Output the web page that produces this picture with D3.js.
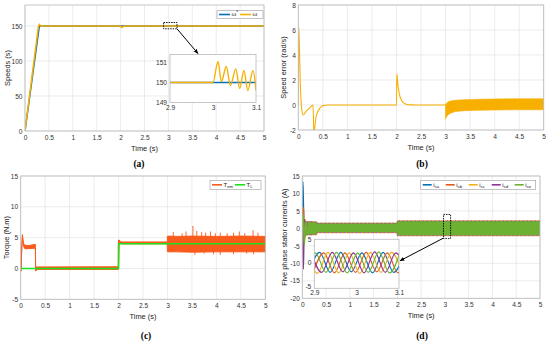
<!DOCTYPE html>
<html>
<head>
<meta charset="utf-8">
<script src="https://cdn.jsdelivr.net/npm/d3@7"></script>
<style>
  body { margin: 0; background: #fff; }
</style>
</head>
<body>
<svg id="fig" width="550" height="342"></svg>
<script>
// ---------- data ----------
const timeTicks = [0, 0.5, 1, 1.5, 2, 2.5, 3, 3.5, 4, 4.5, 5];

// (a) speeds
const speedTicks = [0, 50, 100, 150];
const refT = [0, 0.3, 5];
const refW = [0, 150, 150];
const wT = [0, 0.28, 0.3, 0.32, 0.36, 2.0, 2.02, 2.06, 2.12, 5];
const wV = [0, 149, 152.5, 150.8, 150, 150, 147.8, 149.3, 150, 150];
const zoomAX = [2.9, 3, 3.1];
const zoomAY = [149, 150, 151];
const zRefT = [2.9, 3.1];
const zRefW = [150, 150];
const zWT = [2.9, 3.0, 3.0116, 3.0195, 3.031, 3.0405, 3.053, 3.062, 3.072, 3.081, 3.093, 3.1];
const zWV = [150, 150, 151.05, 150.05, 150.8, 149.85, 150.68, 149.7, 150.6, 149.6, 150.6, 149.6];
const zoomBoxA = [2.9, 3.18, 146, 155];

// (b) speed error
const errTicks = [-2, 0, 2, 4, 6, 8];
const errT = [0, 0.01, 0.022, 0.04, 0.06, 0.08, 0.1, 0.15, 0.2, 0.25, 0.29, 0.3, 0.318, 0.335, 0.36, 0.4, 0.45, 0.5, 0.6, 2.0, 2.008, 2.02, 2.04, 2.07, 2.1, 2.15, 2.2, 2.3, 2.4, 3.0];
const errV = [0, 6.2, 4.8, 1.8, 0.1, -0.6, -0.8, -0.55, -0.35, -0.15, -0.02, 0, -2.4, -1.8, -1.0, -0.5, -0.2, -0.05, 0, 0, 2.5, 2.0, 1.3, 0.7, 0.4, 0.15, 0.06, 0.01, 0, 0];
const errBandT = [3.0, 3.01, 3.05, 3.1, 3.2, 3.4, 3.7, 4.0, 4.5, 5.0];
const errHi = [0, 0.1, 0.25, 0.32, 0.38, 0.43, 0.46, 0.48, 0.5, 0.5];
const errLo = [-1.15, -1.0, -0.8, -0.65, -0.52, -0.45, -0.42, -0.4, -0.38, -0.38];

// (c) torque
const torqueTicks = [-5, 0, 5, 10, 15];
const temT  = [0, 0.008, 0.02, 0.035, 0.05, 0.065, 0.085, 0.15, 0.29, 0.3, 0.305, 0.32, 0.35, 1.995, 2.0, 2.015, 2.04, 2.08, 2.995, 3.0, 3.2, 3.5, 4.0, 4.5, 5.0];
const temLo = [-0.5, -0.4, 3.0, 5.0, 4.1, 3.5, 3.2, 3.2, 3.3, 3.3, -0.4, -0.3, -0.15, -0.15, -0.1, 4.3, 4.05, 4.0, 4.0, 2.7, 2.7, 2.65, 2.7, 2.7, 2.7];
const temHi = [-0.5, -0.4, 3.0, 5.5, 4.5, 3.9, 3.8, 3.7, 3.9, 3.9, 0.2, 0.25, 0.25, 0.28, 4.6, 4.6, 4.35, 4.3, 4.3, 5.25, 5.2, 5.25, 5.2, 5.25, 5.2];
const spikeT = [3.12, 3.3, 3.38, 3.52, 3.6, 3.7, 3.78, 3.88, 3.98, 4.08, 4.22, 4.35, 4.47, 4.58, 4.75, 4.85];
const spikeV = [5.9, 5.7, 6.0, 6.9, 6.1, 5.9, 5.8, 6.0, 5.7, 5.8, 5.7, 5.8, 6.0, 5.7, 6.2, 5.8];
const lowSpikeT = [3.56, 3.75, 3.94, 4.08, 4.35, 4.62, 4.76];
const lowSpikeV = [2.2, 2.4, 2.3, 2.2, 2.3, 2.4, 2.3];
const tlT = [0, 2.0, 2.0, 5];
const tlV = [0, 0, 4, 4];

// (d) five phase stator currents
const currentTicks = [-20, -15, -10, -5, 0, 5, 10, 15];
const phaseNames = ['sa', 'sb', 'sc', 'sd', 'se'];
const isaT = [0, 0.012, 0.02, 0.03, 0.042, 0.055, 0.068, 0.08, 0.093, 0.106];
const isaV = [0, 13.4, 9.5, 2.5, -2.6, 2.2, -1.9, 1.8, -1.7, 1.7];
const isbT = [0, 0.018, 0.028, 0.04, 0.052, 0.064, 0.076, 0.09, 0.104];
const isbV = [0, 6.0, 5.0, -1.5, -3.2, 2.4, -2.0, 1.8, -1.7];
const iscT = [0, 0.02, 0.032, 0.045, 0.058, 0.07, 0.082, 0.095, 0.108];
const iscV = [0, 3.6, 2.8, -2.6, 2.4, -2.0, 1.9, -1.8, 1.7];
const isdT = [0, 0.012, 0.022, 0.034, 0.047, 0.06, 0.073, 0.087, 0.1];
const isdV = [0, -8, -11.6, -4, 2.6, -2.2, 1.9, -1.8, 1.7];
const iseT = [0, 0.015, 0.025, 0.04, 0.052, 0.064, 0.077, 0.09, 0.102];
const iseV = [0, 4.2, 2, -4.8, -2.5, 2.0, -1.9, 1.8, -1.7];
const curT  = [0.09, 0.3, 0.3, 2.0, 2.0, 5.0];
const curHi = [1.8, 1.7, 1.3, 1.3, 2.0, 2.0];
const curLo = [-1.7, -1.6, -1.0, -1.0, -1.9, -1.9];
const zoomDX = [2.9, 3, 3.1];
const zoomDY = [-5, 0, 5];
const zIsaT = [2.8875, 2.9125, 2.9375, 2.9625, 2.9875, 3.0125, 3.0375, 3.0625, 3.0875, 3.1125];
const zIsaV = [-2.1, 2.2, -2.1, 2.2, -2.0, 2.1, -2.2, 2.2, -2.1, 2.1];
const zIsbT = [2.8975, 2.9225, 2.9475, 2.9725, 2.9975, 3.0225, 3.0475, 3.0725, 3.0975, 3.1225];
const zIsbV = [-2.0, 2.1, -2.2, 2.1, -2.1, 2.2, -2.0, 2.1, -2.2, 2.0];
const zIscT = [2.8825, 2.9075, 2.9325, 2.9575, 2.9825, 3.0075, 3.0325, 3.0575, 3.0825, 3.1075];
const zIscV = [2.1, -2.3, 2.2, -2.2, 2.1, -2.3, 2.2, -2.1, 2.2, -2.2];
const zIsdT = [2.8925, 2.9175, 2.9425, 2.9675, 2.9925, 3.0175, 3.0425, 3.0675, 3.0925, 3.1175];
const zIsdV = [2.2, -2.1, 2.2, -2.0, 2.1, -2.2, 2.3, -2.1, 2.1, -2.1];
const zIseT = [2.8775, 2.9025, 2.9275, 2.9525, 2.9775, 3.0025, 3.0275, 3.0525, 3.0775, 3.1025];
const zIseV = [-2.2, 2.1, -2.1, 2.2, -2.2, 2.1, -2.1, 2.3, -2.2, 2.1];
const zoomBoxD = [2.97, 3.12, -2.9, 4.0];

// ---------- styles ----------
const FONT = '"Liberation Sans", Arial, sans-serif';
const blue = '#0072BD';
const amber = '#F7B000';
const temColor = '#F95B1D';
const tlColor = '#1EE01E';
const phaseColors = ['#0072BD', '#E8581C', '#EDB120', '#8E3596', '#6CB132'];

const svg = d3.select('#fig');
let clipCount = 0;

const defs = svg.append('defs');
defs.append('marker')
    .attr('id', 'arrow')
    .attr('viewBox', '0 0 10 10')
    .attr('refX', 9).attr('refY', 5)
    .attr('markerWidth', 5).attr('markerHeight', 5)
    .attr('orient', 'auto')
    .append('path')
    .attr('d', 'M0,1L10,5L0,9z')
    .attr('fill', '#000');

function frame(o) {
    const x = d3.scaleLinear().domain(o.xDomain).range([o.left, o.right]);
    const y = d3.scaleLinear().domain(o.yDomain).range([o.bottom, o.top]);
    const g = svg.append('g');
    g.append('rect')
        .attr('x', o.left).attr('y', o.top)
        .attr('width', o.right - o.left).attr('height', o.bottom - o.top)
        .attr('fill', '#fff');
    if (o.grid) {
        g.append('g').selectAll('line').data(o.xTicks).join('line')
            .attr('x1', d => x(d)).attr('x2', d => x(d))
            .attr('y1', o.top).attr('y2', o.bottom)
            .attr('stroke', '#e4e4e4').attr('stroke-width', 0.7);
        g.append('g').selectAll('line').data(o.yTicks).join('line')
            .attr('x1', o.left).attr('x2', o.right)
            .attr('y1', d => y(d)).attr('y2', d => y(d))
            .attr('stroke', '#e4e4e4').attr('stroke-width', 0.7);
    }
    const id = 'clip' + (clipCount++);
    defs.append('clipPath').attr('id', id).append('rect')
        .attr('x', o.left).attr('y', o.top)
        .attr('width', o.right - o.left).attr('height', o.bottom - o.top);
    const plot = g.append('g').attr('clip-path', `url(#${id})`);
    g.append('rect')
        .attr('x', o.left).attr('y', o.top)
        .attr('width', o.right - o.left).attr('height', o.bottom - o.top)
        .attr('fill', 'none').attr('stroke', '#b8b8b8').attr('stroke-width', 0.8);
    const ax = g.append('g').attr('transform', `translate(0,${o.bottom})`)
        .call(d3.axisBottom(x).tickValues(o.xTicks).tickFormat(d => String(d))
            .tickSize(0).tickPadding(o.padX));
    const ay = g.append('g').attr('transform', `translate(${o.left},0)`)
        .call(d3.axisLeft(y).tickValues(o.yTicks).tickFormat(d => String(d))
            .tickSize(0).tickPadding(o.padY));
    [ax, ay].forEach(a => {
        a.select('.domain').remove();
        a.attr('font-family', FONT).attr('font-size', o.fs).attr('color', '#333');
    });
    return {x, y, g, plot};
}

function labels(o, xl, yl, ylx, pl, plx, ply) {
    svg.append('text')
        .attr('x', (o.left + o.right) / 2).attr('y', o.bottom + 20)
        .attr('text-anchor', 'middle')
        .attr('font-family', FONT).attr('font-size', 7.4).attr('fill', '#222')
        .text(xl);
    svg.append('text')
        .attr('transform', `translate(${ylx},${(o.top + o.bottom) / 2}) rotate(-90)`)
        .attr('text-anchor', 'middle').attr('dominant-baseline', 'central')
        .attr('font-family', FONT).attr('font-size', 7.4).attr('fill', '#222')
        .text(yl);
    svg.append('text')
        .attr('x', plx).attr('y', ply)
        .attr('text-anchor', 'middle')
        .attr('font-family', '"Liberation Serif", "DejaVu Serif", serif')
        .attr('font-weight', 'bold').attr('font-size', 9.5).attr('fill', '#000')
        .text(pl);
}

function zip(ts, vs) {
    return ts.map((t, i) => [t, vs[i]]);
}

function drawLine(p, ts, vs, color, width, curve) {
    p.plot.append('path')
        .datum(zip(ts, vs))
        .attr('d', d3.line().x(d => p.x(d[0])).y(d => p.y(d[1])).curve(curve || d3.curveLinear))
        .attr('fill', 'none').attr('stroke', color).attr('stroke-width', width)
        .attr('stroke-linejoin', 'round');
}

function drawBand(p, ts, lo, hi, color, strokeW) {
    p.plot.append('path')
        .datum(ts.map((t, i) => [t, lo[i], hi[i]]))
        .attr('d', d3.area().x(d => p.x(d[0])).y0(d => p.y(d[1])).y1(d => p.y(d[2])))
        .attr('fill', color).attr('stroke', color).attr('stroke-width', strokeW || 0.6)
        .attr('stroke-linejoin', 'round');
}

function legend(x0, y0, w, h, items, itemW, lineLen) {
    const g = svg.append('g');
    g.append('rect').attr('x', x0).attr('y', y0).attr('width', w).attr('height', h)
        .attr('fill', '#fff').attr('stroke', '#9a9a9a').attr('stroke-width', 0.6);
    items.forEach((it, i) => {
        const lx = x0 + 2 + i * itemW;
        const cy = y0 + h / 2;
        g.append('line').attr('x1', lx).attr('x2', lx + lineLen)
            .attr('y1', cy).attr('y2', cy)
            .attr('stroke', it.color).attr('stroke-width', 1.6);
        const t = g.append('text').attr('x', lx + lineLen + 1.5).attr('y', cy + 1.8)
            .attr('font-family', FONT).attr('font-size', 6).attr('fill', '#222');
        t.append('tspan').text(it.main);
        if (it.sub) t.append('tspan').attr('font-size', 4.3).attr('dy', 1.8).text(it.sub);
        if (it.sup) t.append('tspan').attr('font-size', 4.5).attr('dy', -2).text(it.sup);
    });
}

function zoomMark(p, box) {
    p.g.append('rect')
        .attr('x', p.x(box[0])).attr('y', p.y(box[3]))
        .attr('width', p.x(box[1]) - p.x(box[0]))
        .attr('height', p.y(box[2]) - p.y(box[3]))
        .attr('fill', 'none').attr('stroke', '#000')
        .attr('stroke-width', 0.9).attr('stroke-dasharray', '1.5,1');
}

function arrow(x1, y1, x2, y2) {
    svg.append('line')
        .attr('x1', x1).attr('y1', y1).attr('x2', x2).attr('y2', y2)
        .attr('stroke', '#000').attr('stroke-width', 1)
        .attr('marker-end', 'url(#arrow)');
}

// ---------- (a) ----------
const oA = {left: 25, right: 264, top: 5, bottom: 131, xDomain: [0, 5], yDomain: [0, 180],
    xTicks: timeTicks, yTicks: speedTicks, grid: true, fs: 6.6, padX: 4, padY: 2.5};
const pA = frame(oA);
drawLine(pA, refT, refW, blue, 1.5);
drawLine(pA, wT, wV, amber, 1.5);
labels(oA, 'Time (s)', 'Speeds (s)', 7, '(a)', 139, 167);
zoomMark(pA, zoomBoxA);
legend(217, 10.7, 46, 7.6, [{color: blue, main: 'ω', sup: '*'}, {color: amber, main: 'ω'}], 21, 11);

const oAz = {left: 170, right: 256, top: 54.5, bottom: 102.5, xDomain: [2.9, 3.1], yDomain: [149, 151.4],
    xTicks: zoomAX, yTicks: zoomAY, grid: false, fs: 6.6, padX: 3, padY: 3};
const pAz = frame(oAz);
drawLine(pAz, zRefT, zRefW, blue, 1.5);
drawLine(pAz, zWT, zWV, amber, 1.4, d3.curveMonotoneX);
arrow(pA.x(zoomBoxA[1]), pA.y(zoomBoxA[2]), pAz.x(2.965), oAz.top - 1);

// ---------- (b) ----------
const oB = {left: 298.3, right: 543.7, top: 5, bottom: 130, xDomain: [0, 5], yDomain: [-2, 8],
    xTicks: timeTicks, yTicks: errTicks, grid: true, fs: 6.6, padX: 4, padY: 2.5};
const pB = frame(oB);
drawLine(pB, errT, errV, amber, 1.1, d3.curveMonotoneX);
drawBand(pB, errBandT, errLo, errHi, amber, 0.6);
labels(oB, 'Time (s)', 'Speed error (rad/s)', 283, '(b)', 422, 167);

// ---------- (c) ----------
const oC = {left: 20.7, right: 265.3, top: 176, bottom: 299.3, xDomain: [0, 5], yDomain: [-5, 15],
    xTicks: timeTicks, yTicks: torqueTicks, grid: true, fs: 6.6, padX: 4, padY: 2.5};
const pC = frame(oC);
drawBand(pC, temT, temLo, temHi, temColor, 1.0);
pC.plot.append('g').selectAll('line').data(zip(spikeT, spikeV)).join('line')
    .attr('x1', d => pC.x(d[0])).attr('x2', d => pC.x(d[0]))
    .attr('y1', pC.y(5)).attr('y2', d => pC.y(d[1]))
    .attr('stroke', temColor).attr('stroke-width', 0.9);
pC.plot.append('g').selectAll('line').data(zip(lowSpikeT, lowSpikeV)).join('line')
    .attr('x1', d => pC.x(d[0])).attr('x2', d => pC.x(d[0]))
    .attr('y1', pC.y(2.9)).attr('y2', d => pC.y(d[1]))
    .attr('stroke', temColor).attr('stroke-width', 0.9);
drawLine(pC, tlT, tlV, tlColor, 1.6);
labels(oC, 'Time (s)', 'Torque (N.m)', 6, '(c)', 146, 339);
legend(210, 180.3, 51, 9, [{color: temColor, main: 'T', sub: 'em'}, {color: tlColor, main: 'T', sub: 'L'}], 23, 10);

// ---------- (d) ----------
const oD = {left: 302.3, right: 540, top: 176, bottom: 298.3, xDomain: [0, 5], yDomain: [-20, 15],
    xTicks: timeTicks, yTicks: currentTicks, grid: true, fs: 6.6, padX: 4, padY: 2.5};
const pD = frame(oD);
const phaseT = [isaT, isbT, iscT, isdT, iseT];
const phaseV = [isaV, isbV, iscV, isdV, iseV];
phaseColors.forEach((c, i) => {
    drawBand(pD, curT, curLo, curHi, c, 0.5);
    if (i < 4 && i > 0) {
        // coloured fringe peeking out above/below the green band
        const up = curHi.map(v => v + 0.2);
        const dn = curLo.map(v => v - 0.2);
        [up, dn].forEach(edge => {
            pD.plot.append('path')
                .datum(zip(curT, edge))
                .attr('d', d3.line().x(d => pD.x(d[0])).y(d => pD.y(d[1])))
                .attr('fill', 'none').attr('stroke', c).attr('stroke-width', 1.1)
                .attr('stroke-dasharray', '1,3').attr('stroke-dashoffset', i * 1.3);
        });
    }
});
phaseColors.forEach((c, i) => drawLine(pD, phaseT[i], phaseV[i], c, 1.4, d3.curveMonotoneX));
labels(oD, 'Time (s)', 'Five phase stator currents (A)', 284, '(d)', 422, 339);
zoomMark(pD, zoomBoxD);
legend(420.7, 180.3, 115, 9,
    phaseNames.map((n, i) => ({color: phaseColors[i], main: 'i', sub: n})), 23, 9);

const oDz = {left: 314.3, right: 399, top: 239.3, bottom: 288.3, xDomain: [2.9, 3.1], yDomain: [-5.5, 5],
    xTicks: zoomDX, yTicks: zoomDY, grid: false, fs: 6.6, padX: 2.5, padY: 3};
const pDz = frame(oDz);
const zPhaseT = [zIsaT, zIsbT, zIscT, zIsdT, zIseT];
const zPhaseV = [zIsaV, zIsbV, zIscV, zIsdV, zIseV];
phaseColors.forEach((c, i) => drawLine(pDz, zPhaseT[i], zPhaseV[i], c, 1.2, d3.curveMonotoneX));
arrow(pD.x(zoomBoxD[0]), pD.y(zoomBoxD[2]) - 0.5, oDz.right + 1, pDz.y(0.4));
</script>
</body>
</html>
